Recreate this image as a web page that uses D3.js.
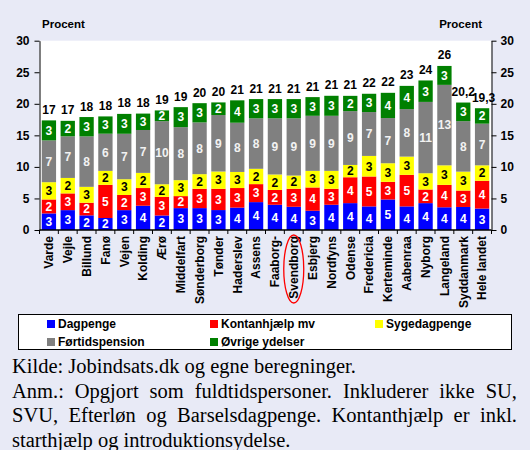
<!DOCTYPE html>
<html>
<head>
<meta charset="utf-8">
<script src="https://cdn.jsdelivr.net/npm/d3@7"></script>
<style>
  body { margin: 0; background: #e8eaf6; }
  svg { display: block; font-family: "Liberation Sans", Arial, sans-serif; }
  .axis text { font-size: 12px; font-weight: bold; fill: #000; }
  .axis path, .axis line { stroke: #000; }
  .seg-label { font-size: 12px; font-weight: bold; text-anchor: middle; }
  .total-label { font-size: 12px; font-weight: bold; text-anchor: middle; }
  .x-label { font-size: 12px; font-weight: bold; text-anchor: end; }
  .legend-text { font-size: 12px; font-weight: bold; }
  .note { font-family: "Liberation Serif", "Times New Roman", serif; font-size: 20.5px; fill: #000; }
</style>
</head>
<body>
<div id="chart"></div>
<script>
// ---------------------------//
//       DATA                 //
// ---------------------------//
const kommuner = ["Varde", "Vejle", "Billund", "Fanø", "Vejen", "Kolding", "Ærø", "Middelfart",
  "Sønderborg", "Tønder", "Haderslev", "Assens", "Faaborg-", "Svendborg", "Esbjerg", "Nordfyns",
  "Odense", "Fredericia", "Kerteminde", "Aabenraa", "Nyborg", "Langeland", "Syddanmark", "Hele landet"];

const dagpenge        = [2.63, 3.15, 2.32, 1.9, 3.15, 3.85, 2.3, 3.47, 3.47, 3.16, 3.55, 4.42, 4.0, 3.68, 3.05, 4.0, 4.26, 3.74, 4.84, 3.74, 4.26, 3.6, 3.65, 3.4];
const kontanthjaelp   = [2.21, 2.65, 2.0, 5.26, 2.4, 2.8, 2.95, 1.9, 3.06, 3.37, 3.1, 2.85, 2.35, 2.85, 3.69, 2.53, 4.1, 4.74, 2.79, 5.0, 2.16, 3.55, 2.6, 4.4];
const sygedagpenge    = [2.74, 2.45, 2.52, 2.21, 2.5, 2.4, 2.0, 2.53, 2.32, 2.74, 2.55, 2.43, 2.45, 2.1, 2.63, 2.84, 1.95, 3.26, 2.95, 2.89, 2.58, 3.1, 3.0, 2.45];
const foertidspension = [6.62, 6.6, 8.0, 5.89, 7.2, 6.8, 10.0, 8.4, 8.2, 8.95, 7.8, 8.0, 8.9, 9.07, 8.73, 8.73, 8.53, 6.95, 7.16, 7.53, 11.3, 12.75, 8.0, 6.6];
const oevrige         = [3.17, 2.45, 3.06, 2.74, 3.15, 2.6, 1.7, 3.17, 3.05, 2.0, 3.55, 3.05, 3.05, 3.05, 2.96, 3.17, 2.42, 2.9, 4.0, 3.68, 3.4, 3.0, 2.95, 2.45];

const serier = ["Dagpenge", "Kontanhjælp mv", "Sygedagpenge", "Førtidspension", "Øvrige ydelser"];
const yTicks = [0, 5, 10, 15, 20, 25, 30];
const aggregater = ["Syddanmark", "Hele landet"];   // totals shown with one decimal
const markeret = "Svendborg";

const noteLinjer = [
  "Kilde: Jobindsats.dk og egne beregninger.",
  "Anm.: Opgjort som fuldtidspersoner. Inkluderer ikke SU,",
  "SVU, Efterløn og Barselsdagpenge. Kontanthjælp er inkl.",
  "starthjælp og introduktionsydelse."
];

const colors = {
  "Dagpenge": "#0000ff",
  "Kontanhjælp mv": "#ff0000",
  "Sygedagpenge": "#ffff00",
  "Førtidspension": "#808080",
  "Øvrige ydelser": "#008000"
};
const labelColors = {
  "Dagpenge": "#fff",
  "Kontanhjælp mv": "#fff",
  "Sygedagpenge": "#000",
  "Førtidspension": "#f2f2f2",
  "Øvrige ydelser": "#fff"
};

const rows = kommuner.map(function(k, i) {
  return {
    kommune: k,
    "Dagpenge": dagpenge[i],
    "Kontanhjælp mv": kontanthjaelp[i],
    "Sygedagpenge": sygedagpenge[i],
    "Førtidspension": foertidspension[i],
    "Øvrige ydelser": oevrige[i]
  };
});

// ---------------------------//
//       SETUP                //
// ---------------------------//
const W = 530, H = 450;
const plot = {left: 39.5, right: 491.5, top: 40.7, bottom: 230};

const svg = d3.select("#chart")
  .append("svg")
  .attr("width", W)
  .attr("height", H);

svg.append("rect")
  .attr("width", W).attr("height", H)
  .attr("fill", "#e8eaf6");

svg.append("rect")
  .attr("x", plot.left).attr("y", plot.top)
  .attr("width", plot.right - plot.left)
  .attr("height", plot.bottom - plot.top)
  .attr("fill", "#fff");

const x = d3.scaleBand()
  .domain(kommuner)
  .range([plot.left, plot.right])
  .paddingInner(0.24)
  .paddingOuter(0.12);

const y = d3.scaleLinear()
  .domain([0, 30])
  .range([plot.bottom, plot.top]);

const stacked = d3.stack().keys(serier)(rows);

// ---------------------------//
//       BARS                 //
// ---------------------------//
svg.append("g")
  .selectAll("g")
  .data(stacked)
  .join("g")
  .attr("fill", function(d) { return colors[d.key]; })
  .selectAll("rect")
  .data(function(d) { return d; })
  .join("rect")
  .attr("x", function(d) { return x(d.data.kommune); })
  .attr("y", function(d) { return y(d[1]); })
  .attr("width", x.bandwidth())
  .attr("height", function(d) { return y(d[0]) - y(d[1]); });

// segment labels
svg.append("g")
  .selectAll("g")
  .data(stacked)
  .join("g")
  .attr("fill", function(d) { return labelColors[d.key]; })
  .selectAll("text")
  .data(function(d) { return d; })
  .join("text")
  .attr("class", "seg-label")
  .attr("x", function(d) { return x(d.data.kommune) + x.bandwidth() / 2; })
  .attr("y", function(d) { return (y(d[0]) + y(d[1])) / 2; })
  .attr("dy", "0.36em")
  .text(function(d) { return Math.round(d[1] - d[0]); });

// totals above bars
const totals = rows.map(function(r) {
  return {kommune: r.kommune, total: d3.sum(serier, function(s) { return r[s]; })};
});

svg.append("g")
  .selectAll("text")
  .data(totals)
  .join("text")
  .attr("class", "total-label")
  .attr("x", function(d) { return x(d.kommune) + x.bandwidth() / 2; })
  .attr("y", function(d) { return y(d.total) - 6.5; })
  .attr("dx", function(d) { return aggregater.indexOf(d.kommune) === 1 ? 1.5 : 0; })
  .text(function(d) {
    if (aggregater.indexOf(d.kommune) >= 0) return d3.format(".1f")(d.total).replace(".", ",");
    return Math.round(d.total);
  });

// ---------------------------//
//       AXES                 //
// ---------------------------//
svg.append("g")
  .attr("class", "axis")
  .attr("transform", "translate(" + plot.left + ",0)")
  .call(d3.axisLeft(y).tickValues(yTicks).tickSize(5).tickSizeOuter(0).tickPadding(5));

svg.append("g")
  .attr("class", "axis")
  .attr("transform", "translate(" + plot.right + ",0)")
  .call(d3.axisRight(y).tickValues(yTicks).tickSize(5).tickSizeOuter(0).tickPadding(4));

// x axis line + ticks at category boundaries
const half = (x.step() - x.bandwidth()) / 2;
const bounds = kommuner.map(function(k) { return x(k) - half; }).concat([plot.right]);

svg.append("line")
  .attr("x1", plot.left).attr("x2", plot.right)
  .attr("y1", y(0)).attr("y2", y(0))
  .attr("stroke", "#000").attr("stroke-width", 1.5);

svg.append("g")
  .selectAll("line")
  .data(bounds)
  .join("line")
  .attr("x1", function(d) { return d; })
  .attr("x2", function(d) { return d; })
  .attr("y1", y(0)).attr("y2", y(0) + 4)
  .attr("stroke", "#000");

svg.append("g")
  .selectAll("text")
  .data(kommuner)
  .join("text")
  .attr("class", "x-label")
  .attr("transform", function(d) {
    return "translate(" + (x(d) + x.bandwidth() / 2) + "," + (y(0) + 6) + ") rotate(-90)";
  })
  .attr("dy", "0.36em")
  .text(function(d) { return d; });

// red ring around the highlighted kommune
svg.append("ellipse")
  .attr("cx", x(markeret) + x.bandwidth() / 2)
  .attr("cy", y(0) + 39)
  .attr("rx", 10)
  .attr("ry", 34)
  .attr("fill", "none")
  .attr("stroke", "#ff0000")
  .attr("stroke-width", 1.3);

// axis titles
svg.append("text")
  .attr("x", 42).attr("y", 28)
  .style("font-size", "11.5px").style("font-weight", "bold")
  .text("Procent");

svg.append("text")
  .attr("x", 482).attr("y", 28)
  .attr("text-anchor", "end")
  .style("font-size", "11.5px").style("font-weight", "bold")
  .text("Procent");

// ---------------------------//
//       LEGEND               //
// ---------------------------//
svg.append("rect")
  .attr("x", 18.5).attr("y", 314.5)
  .attr("width", 493).attr("height", 35)
  .attr("fill", "#fff")
  .attr("stroke", "#000");

const legendPos = [[47, 324], [210, 324], [375, 324], [47, 342], [210, 342]];

const legend = svg.append("g")
  .selectAll("g")
  .data(serier)
  .join("g")
  .attr("transform", function(d, i) { return "translate(" + legendPos[i][0] + "," + legendPos[i][1] + ")"; });

legend.append("rect")
  .attr("x", 0).attr("y", -4)
  .attr("width", 8).attr("height", 8)
  .attr("fill", function(d) { return colors[d]; });

legend.append("text")
  .attr("class", "legend-text")
  .attr("x", 11)
  .attr("dy", "0.36em")
  .text(function(d) { return d; });

// ---------------------------//
//       NOTES                //
// ---------------------------//
const noteY = [373, 397.5, 422, 446.5];
const noteLeft = 12, noteRight = 517;

noteLinjer.forEach(function(line, i) {
  const justify = (i === 1 || i === 2);
  if (!justify) {
    svg.append("text")
      .attr("class", "note")
      .attr("x", noteLeft).attr("y", noteY[i])
      .text(line);
    return;
  }
  // justified line: spread words over the full width
  const words = line.split(" ");
  const g = svg.append("g");
  const nodes = words.map(function(w) {
    return g.append("text").attr("class", "note").attr("y", noteY[i]).text(w);
  });
  const widths = nodes.map(function(n) { return n.node().getComputedTextLength(); });
  const gap = (noteRight - noteLeft - d3.sum(widths)) / (words.length - 1);
  let cx = noteLeft;
  nodes.forEach(function(n, j) {
    n.attr("x", cx);
    cx += widths[j] + gap;
  });
});
</script>
</body>
</html>
